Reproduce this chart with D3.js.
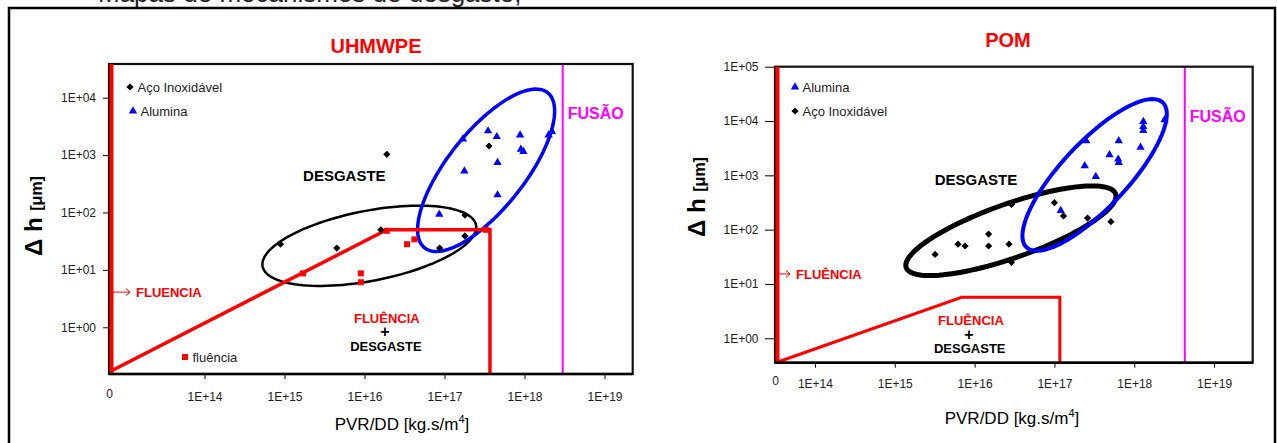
<!DOCTYPE html>
<html lang="pt">
<head>
<meta charset="UTF-8" />
<title>Mapas de desgaste - UHMWPE e POM</title>
<script src="https://cdn.jsdelivr.net/npm/d3@7"></script>
<style>
  body { margin: 0; background: #fff; }
  svg { display: block; font-family: "Liberation Sans", Arial, sans-serif; }
</style>
</head>
<body>
<svg id="vis" width="1277" height="443"></svg>
<script>
// ---- UHMWPE : PVR/DD [kg.s/m4] , delta h [um]
var uhAco = [[8.9e14, 28], [4.5e15, 24], [1.6e16, 50], [1.9e16, 1030], [8.7e16, 24],
             [1.8e17, 90], [1.8e17, 39], [3.6e17, 1440]];
var uhAlumina = [[8.6e16, 93], [1.7e17, 1900], [1.77e17, 528], [3.5e17, 2630], [4.5e17, 2090],
                 [4.6e17, 738], [4.6e17, 202], [8.8e17, 2240], [9.0e17, 1260], [9.7e17, 1150],
                 [2.0e18, 2240], [2.2e18, 2560]];
var uhFluencia = [[1.7e15, 8.7], [9.0e15, 8.7], [9.0e15, 6.1], [3.4e16, 28], [4.2e16, 34],
                  [1.9e16, 48], [3.3e17, 50]];
var uhLimite = [[6.6e12, 0.17], [1.9e16, 50], [3.7e17, 50], [3.7e17, 0.15]];
var uhFusao = 3.0e18;
// elipses em decadas: centro (log x, log y) e dois semi-eixos conjugados
var uhElipseAco = [16.06, 1.42, 1.334, 0.361, 0.0835, -0.599];
var uhElipseAlumina = [17.52, 2.735, 0.769, 1.352, 0.377, -0.416];
var uhXDom = [6.4e12, 2.25e19];
var uhYDom = [0.1536, 38600];
var uhYTicks = [1, 10, 100, 1000, 10000];

// ---- POM
var pomAco = [[3.2e15, 35], [6.2e15, 54], [7.6e15, 50], [1.5e16, 83], [1.5e16, 50],
              [2.7e16, 54], [2.9e16, 291], [2.9e16, 25], [1.0e17, 314], [1.3e17, 179],
              [2.6e17, 163], [5.1e17, 140]];
var pomAlumina = [[1.2e17, 224], [2.4e17, 1490], [2.5e17, 4300], [3.3e17, 946], [4.9e17, 2380],
                  [6.3e17, 1980], [6.4e17, 1710], [6.4e17, 4300], [1.2e18, 3290], [1.3e18, 7880],
                  [1.3e18, 9750], [1.3e18, 6650], [2.4e18, 10500]];
var pomLimite = [[3.5e13, 0.37], [6.9e15, 5.7], [1.17e17, 5.7], [1.17e17, 0.355]];
var pomFusao = 4.3e18;
var pomElipseAco = [16.455, 1.98, 1.312, 0.679, 0.112, -0.469];
var pomElipseAlumina = [17.504, 3.007, 0.853, 1.334, 0.3005, -0.4147];
var pomXDom = [3.16e13, 3.05e19];
var pomYDom = [0.355, 100000];
var pomYTicks = [1, 10, 100, 1000, 10000, 100000];

var xTicks = [1e14, 1e15, 1e16, 1e17, 1e18, 1e19];
var xTickLabels = ["0", "1E+14", "1E+15", "1E+16", "1E+17", "1E+18", "1E+19"];

var svg = d3.select("#vis");

// moldura e texto cortado do documento
svg.append("text").attr("x", 98).attr("y", 2).attr("font-size", 26).attr("fill", "#222")
  .text("Mapas de mecanismos de desgaste,");
svg.append("rect").attr("x", 9).attr("y", 8).attr("width", 1266).attr("height", 460)
  .attr("fill", "#fff").attr("stroke", "#000").attr("stroke-width", 2.5);

function fmtY(d) {
  var e = Math.round(Math.log10(d));
  return "1E+" + (e < 10 ? "0" + e : e);
}

function elipsePath(e, x, y) {
  var pts = d3.range(0, 360, 3).map(function(a) {
    var t = a * Math.PI / 180;
    return [Math.pow(10, e[0] + e[2] * Math.cos(t) + e[4] * Math.sin(t)),
            Math.pow(10, e[1] + e[3] * Math.cos(t) + e[5] * Math.sin(t))];
  });
  return d3.line().x(function(d) { return x(d[0]); }).y(function(d) { return y(d[1]); })
    .curve(d3.curveLinearClosed)(pts);
}

var simbolo = {
  diamante: d3.symbol().type(d3.symbolSquare).size(26)(),
  triangulo: d3.symbol().type(d3.symbolTriangle).size(30)(),
  quadrado: d3.symbol().type(d3.symbolSquare).size(36)()
};
var rot = { diamante: 45, triangulo: 0, quadrado: 0 };

function marca(g, tipo, cor, px, py) {
  g.append("path").attr("d", simbolo[tipo]).attr("fill", cor)
    .attr("transform", "translate(" + px + "," + py + ") rotate(" + rot[tipo] + ")");
}

function desenha(c) {
  var x = d3.scaleLog().domain(c.xDom).range([c.L, c.R]);
  var y = d3.scaleLog().domain(c.yDom).range([c.B, c.T]);
  var g = svg.append("g");

  // titulo
  g.append("text").attr("x", c.titleX).attr("y", c.titleY).attr("dy", "0.36em")
    .attr("text-anchor", "middle").attr("font-size", 20).attr("font-weight", "bold")
    .attr("fill", "#ff0000").text(c.title);

  // elipses
  c.elipses.forEach(function(e) {
    g.append("path").attr("d", elipsePath(e.geo, x, y)).attr("fill", "none")
      .attr("stroke", e.cor).attr("stroke-width", e.w);
  });

  // limite da fluencia
  g.append("path")
    .attr("d", d3.line().x(function(d) { return x(d[0]); }).y(function(d) { return y(d[1]); })(c.limite))
    .attr("fill", "none").attr("stroke", "#ff0000").attr("stroke-width", c.limW);

  // linha de fusao
  g.append("line").attr("x1", x(c.fusao)).attr("x2", x(c.fusao)).attr("y1", c.T).attr("y2", c.B)
    .attr("stroke", "#ff00ff").attr("stroke-width", 2);

  // pontos
  c.series.forEach(function(s) {
    s.dados.forEach(function(d) { marca(g, s.tipo, s.cor, x(d[0]), y(d[1])); });
  });

  // borda da area
  g.append("rect").attr("x", c.L).attr("y", c.T).attr("width", c.R - c.L).attr("height", c.B - c.T)
    .attr("fill", "none").attr("stroke", "#111").attr("stroke-width", 2.2);
  // linha vermelha vertical (fluencia)
  g.append("line").attr("x1", c.L + 2.5).attr("x2", c.L + 2.5).attr("y1", c.T).attr("y2", c.B)
    .attr("stroke", "#ff0000").attr("stroke-width", 4);

  // eixos
  var xAxis = d3.axisBottom(x).tickValues([c.xDom[0]].concat(xTicks))
    .tickFormat(function(d, i) { return xTickLabels[i]; })
    .tickSize(5).tickPadding(c.xPad);
  var gx = g.append("g").attr("transform", "translate(0," + c.B + ")").call(xAxis);
  gx.select(".domain").remove();
  gx.selectAll("text").attr("font-size", 12).attr("font-family", null).attr("fill", "#222");
  gx.selectAll(".tick").filter(function(d, i) { return i === 0; })
    .call(function(t) { t.select("line").remove(); t.select("text").attr("y", c.xPad + 2); });

  var yAxis = d3.axisLeft(y).tickValues(c.yTicks).tickFormat(fmtY)
    .tickSize(c.ySize).tickPadding(c.yPad);
  var gy = g.append("g").attr("transform", "translate(" + c.L + ",0)").call(yAxis);
  gy.select(".domain").remove();
  gy.selectAll("text").attr("font-size", 12).attr("font-family", null).attr("fill", "#222");
  g.append("line").attr("x1", c.L).attr("x2", c.R).attr("y1", c.B).attr("y2", c.B)
    .attr("stroke", "#000").attr("stroke-width", 2.5);

  // titulos dos eixos
  var xl = g.append("text").attr("x", c.xLabX).attr("y", c.xLabY).attr("text-anchor", "middle")
    .attr("font-size", 17).attr("fill", "#000");
  xl.append("tspan").text("PVR/DD [kg.s/m");
  xl.append("tspan").attr("font-size", 11).attr("dy", -7).text("4");
  xl.append("tspan").attr("dy", 7).text("]");

  var yl = g.append("text").attr("transform", "translate(" + c.yLabX + "," + c.yLabY + ") rotate(-90)")
    .attr("text-anchor", "middle").attr("font-weight", "bold").attr("fill", "#000");
  yl.append("tspan").attr("font-size", 24).text("\u0394 h ");
  yl.append("tspan").attr("font-size", 16).text("[\u03bcm]");

  // legenda
  c.legenda.forEach(function(l) {
    marca(g, l.tipo, l.cor, l.x, l.y);
    g.append("text").attr("x", l.x + 7.5).attr("y", l.y + 4.5).attr("font-size", 13)
      .attr("fill", "#222").text(l.nome);
  });

  // anotacoes
  c.notas.forEach(function(n) {
    g.append("text").attr("x", x(n.x)).attr("y", y(n.y)).attr("dy", "0.36em")
      .attr("text-anchor", "middle").attr("font-size", n.s).attr("font-weight", "bold")
      .attr("fill", n.cor).text(n.t);
  });

  // seta FLUENCIA
  var yf = y(c.setaY);
  g.append("path").attr("d", "M" + (c.L + 4) + "," + yf + "H" + (c.L + c.setaW) +
      "M" + (c.L + c.setaW - 4) + "," + (yf - 3.5) + "L" + (c.L + c.setaW) + "," + yf +
      "L" + (c.L + c.setaW - 4) + "," + (yf + 3.5))
    .attr("fill", "none").attr("stroke", "#ff0000").attr("stroke-width", 1);
  g.append("text").attr("x", c.L + c.setaW + 6).attr("y", yf).attr("dy", "0.36em")
    .attr("font-size", 13).attr("font-weight", "bold").attr("fill", "#ff0000").text(c.setaTexto);

  // FUSAO
  g.append("text").attr("x", x(c.fusao) + 5).attr("y", y(c.fusaoY)).attr("dy", "0.36em")
    .attr("font-size", 16).attr("font-weight", "bold").attr("fill", "#ff00ff").text("FUS\u00c3O");
}

desenha({
  title: "UHMWPE", titleX: 376, titleY: 46,
  L: 109, R: 632.7, T: 64, B: 374,
  xDom: uhXDom, yDom: uhYDom, yTicks: uhYTicks,
  xPad: 13.5, ySize: 6, yPad: 7,
  xLabX: 402, xLabY: 430, yLabX: 41.5, yLabY: 216,
  fusao: uhFusao, fusaoY: 5350,
  limite: uhLimite, limW: 3.5,
  elipses: [
    { geo: uhElipseAco, cor: "#000", w: 2.5 },
    { geo: uhElipseAlumina, cor: "#0000ff", w: 3.5 }
  ],
  series: [
    { dados: uhFluencia, tipo: "quadrado", cor: "#ff0000" },
    { dados: uhAco, tipo: "diamante", cor: "#000" },
    { dados: uhAlumina, tipo: "triangulo", cor: "#0000ff" }
  ],
  legenda: [
    { nome: "A\u00e7o Inoxid\u00e1vel", tipo: "diamante", cor: "#000", x: 130, y: 87 },
    { nome: "Alumina", tipo: "triangulo", cor: "#0000ff", x: 133, y: 111 },
    { nome: "flu\u00eancia", tipo: "quadrado", cor: "#ff0000", x: 185, y: 357 }
  ],
  notas: [
    { t: "DESGASTE", x: 5.6e15, y: 438, s: 15, cor: "#000" },
    { t: "FLU\u00caNCIA", x: 1.9e16, y: 1.44, s: 13, cor: "#ff0000" },
    { t: "+", x: 1.8e16, y: 0.84, s: 16, cor: "#000" },
    { t: "DESGASTE", x: 1.85e16, y: 0.47, s: 13, cor: "#000" }
  ],
  setaY: 4.1, setaW: 21, setaTexto: "FLUENCIA"
});

desenha({
  title: "POM", titleX: 1008, titleY: 40,
  L: 775, R: 1252.7, T: 66.7, B: 362.7,
  xDom: pomXDom, yDom: pomYDom, yTicks: pomYTicks,
  xPad: 11.6, ySize: 10, yPad: 6.5,
  xLabX: 1012, xLabY: 424, yLabX: 705, yLabY: 197,
  fusao: pomFusao, fusaoY: 12400,
  limite: pomLimite, limW: 3,
  elipses: [
    { geo: pomElipseAco, cor: "#000", w: 5 },
    { geo: pomElipseAlumina, cor: "#0000ff", w: 4 }
  ],
  series: [
    { dados: pomAco, tipo: "diamante", cor: "#000" },
    { dados: pomAlumina, tipo: "triangulo", cor: "#0000ff" }
  ],
  legenda: [
    { nome: "Alumina", tipo: "triangulo", cor: "#0000ff", x: 795, y: 87 },
    { nome: "A\u00e7o Inoxid\u00e1vel", tipo: "diamante", cor: "#000", x: 795, y: 111 }
  ],
  notas: [
    { t: "DESGASTE", x: 1.04e16, y: 840, s: 15, cor: "#000" },
    { t: "FLU\u00caNCIA", x: 9.0e15, y: 2.18, s: 13, cor: "#ff0000" },
    { t: "+", x: 8.5e15, y: 1.2, s: 16, cor: "#000" },
    { t: "DESGASTE", x: 8.7e15, y: 0.65, s: 13, cor: "#000" }
  ],
  setaY: 15.3, setaW: 15, setaTexto: "FLU\u00caNCIA"
});
</script>
</body>
</html>
